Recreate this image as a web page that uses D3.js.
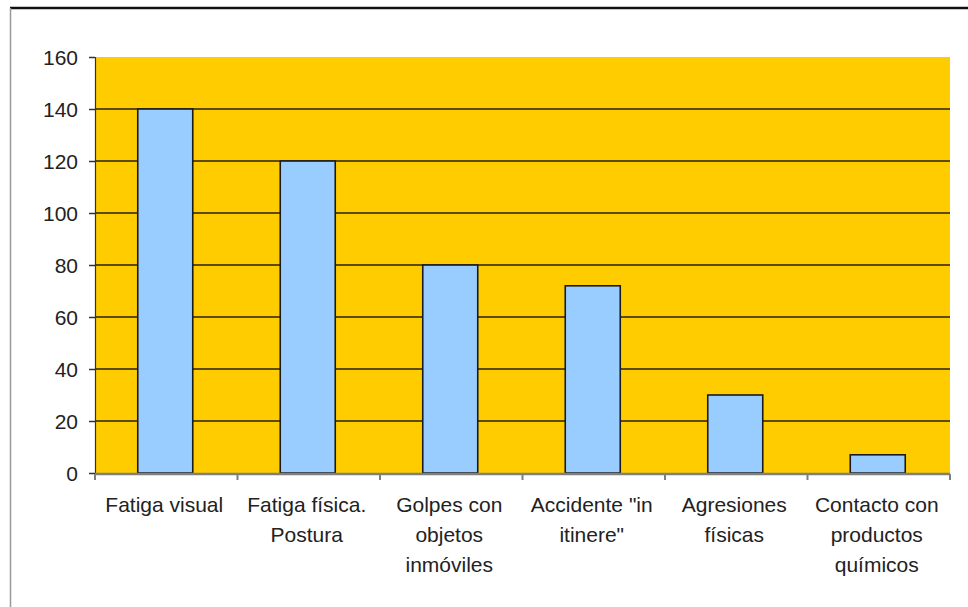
<!DOCTYPE html>
<html>
<head>
<meta charset="utf-8">
<script src="https://cdn.jsdelivr.net/npm/d3@7"></script>
<style>
  body { margin: 0; background: #fff; }
  text { font-family: "Liberation Sans", Arial, sans-serif; fill: #222; }
</style>
</head>
<body>
<svg id="chart"></svg>
<script>
// data
const categories = [
    ['Fatiga visual'],
    ['Fatiga física.', 'Postura'],
    ['Golpes con', 'objetos', 'inmóviles'],
    ['Accidente "in', 'itinere"'],
    ['Agresiones', 'físicas'],
    ['Contacto con', 'productos', 'químicos']
];
const values = [140, 120, 80, 72, 30, 7];
const yTicks = [0, 20, 40, 60, 80, 100, 120, 140, 160];

let width = 968;
let height = 607;
let plot = {left: 95, top: 57, right: 950, bottom: 473};

let svg = d3.select('#chart')
            .attr('width', width)
            .attr('height', height);

// frame (only top + left edges visible)
svg.append('line')
    .attr('x1', 10).attr('x2', width)
    .attr('y1', 8).attr('y2', 8)
    .attr('stroke', '#111').attr('stroke-width', 2.5);
svg.append('line')
    .attr('x1', 10.5).attr('x2', 10.5)
    .attr('y1', 8).attr('y2', height)
    .attr('stroke', '#999').attr('stroke-width', 1.5);

let labels = categories.map(c => c.join(' '));

let xScale = d3.scaleBand()
            .domain(labels)
            .range([plot.left, plot.right])
            .paddingInner(0)
            .paddingOuter(0);

let yScale = d3.scaleLinear()
            .domain([0, 160])
            .range([plot.bottom, plot.top]);

// background
svg.append('rect')
    .attr('x', plot.left)
    .attr('y', plot.top)
    .attr('width', plot.right - plot.left)
    .attr('height', plot.bottom - plot.top)
    .attr('fill', '#FFCC00');

// gridlines
svg.append('g')
    .selectAll('line')
    .data(yTicks.filter(t => t > 0 && t < 160))
    .join('line')
    .attr('x1', plot.left)
    .attr('x2', plot.right)
    .attr('y1', d => yScale(d))
    .attr('y2', d => yScale(d))
    .attr('stroke', '#2a2000')
    .attr('stroke-width', 1.6);

// bars
let barW = 55;
svg.append('g')
    .selectAll('rect')
    .data(values)
    .join('rect')
    .attr('x', (d, i) => xScale(labels[i]) + xScale.bandwidth() / 2 - barW / 2 - 1)
    .attr('y', d => yScale(d))
    .attr('width', barW)
    .attr('height', d => yScale(0) - yScale(d))
    .attr('fill', '#99CCFF')
    .attr('stroke', '#1a1a1a')
    .attr('stroke-width', 1.6);

// y axis
let yAxis = d3.axisLeft(yScale)
            .tickValues(yTicks)
            .tickSize(6)
            .tickPadding(11);

let yG = svg.append('g')
    .attr('transform', `translate(${plot.left}, 0)`)
    .call(yAxis);
yG.select('.domain').attr('stroke', '#333').attr('stroke-width', 1.2);
yG.selectAll('.tick line').attr('stroke', '#333').attr('stroke-width', 1.5);
yG.selectAll('.tick text')
    .style('font-size', '21px')
    .attr('fill', '#222')
    .attr('dy', '0.36em');

// x axis
let xG = svg.append('g')
    .attr('transform', `translate(0, ${plot.bottom + 1})`);
xG.append('line')
    .attr('x1', plot.left).attr('x2', plot.right)
    .attr('stroke', '#7f7f7f').attr('stroke-width', 2.5);
xG.selectAll('line.tick')
    .data(d3.range(labels.length + 1))
    .join('line')
    .attr('class', 'tick')
    .attr('x1', i => plot.left + i * xScale.bandwidth())
    .attr('x2', i => plot.left + i * xScale.bandwidth())
    .attr('y1', 0)
    .attr('y2', 6)
    .attr('stroke', '#7f7f7f')
    .attr('stroke-width', 2);

let xText = xG.selectAll('text')
    .data(categories)
    .join('text')
    .attr('text-anchor', 'middle')
    .style('font-size', '21px')
    .attr('transform', (d, i) => `translate(${xScale(labels[i]) + xScale.bandwidth() / 2 - 2}, 38)`);
xText.selectAll('tspan')
    .data(d => d)
    .join('tspan')
    .attr('x', 0)
    .attr('y', (d, i) => i * 30)
    .text(d => d);
</script>
</body>
</html>
